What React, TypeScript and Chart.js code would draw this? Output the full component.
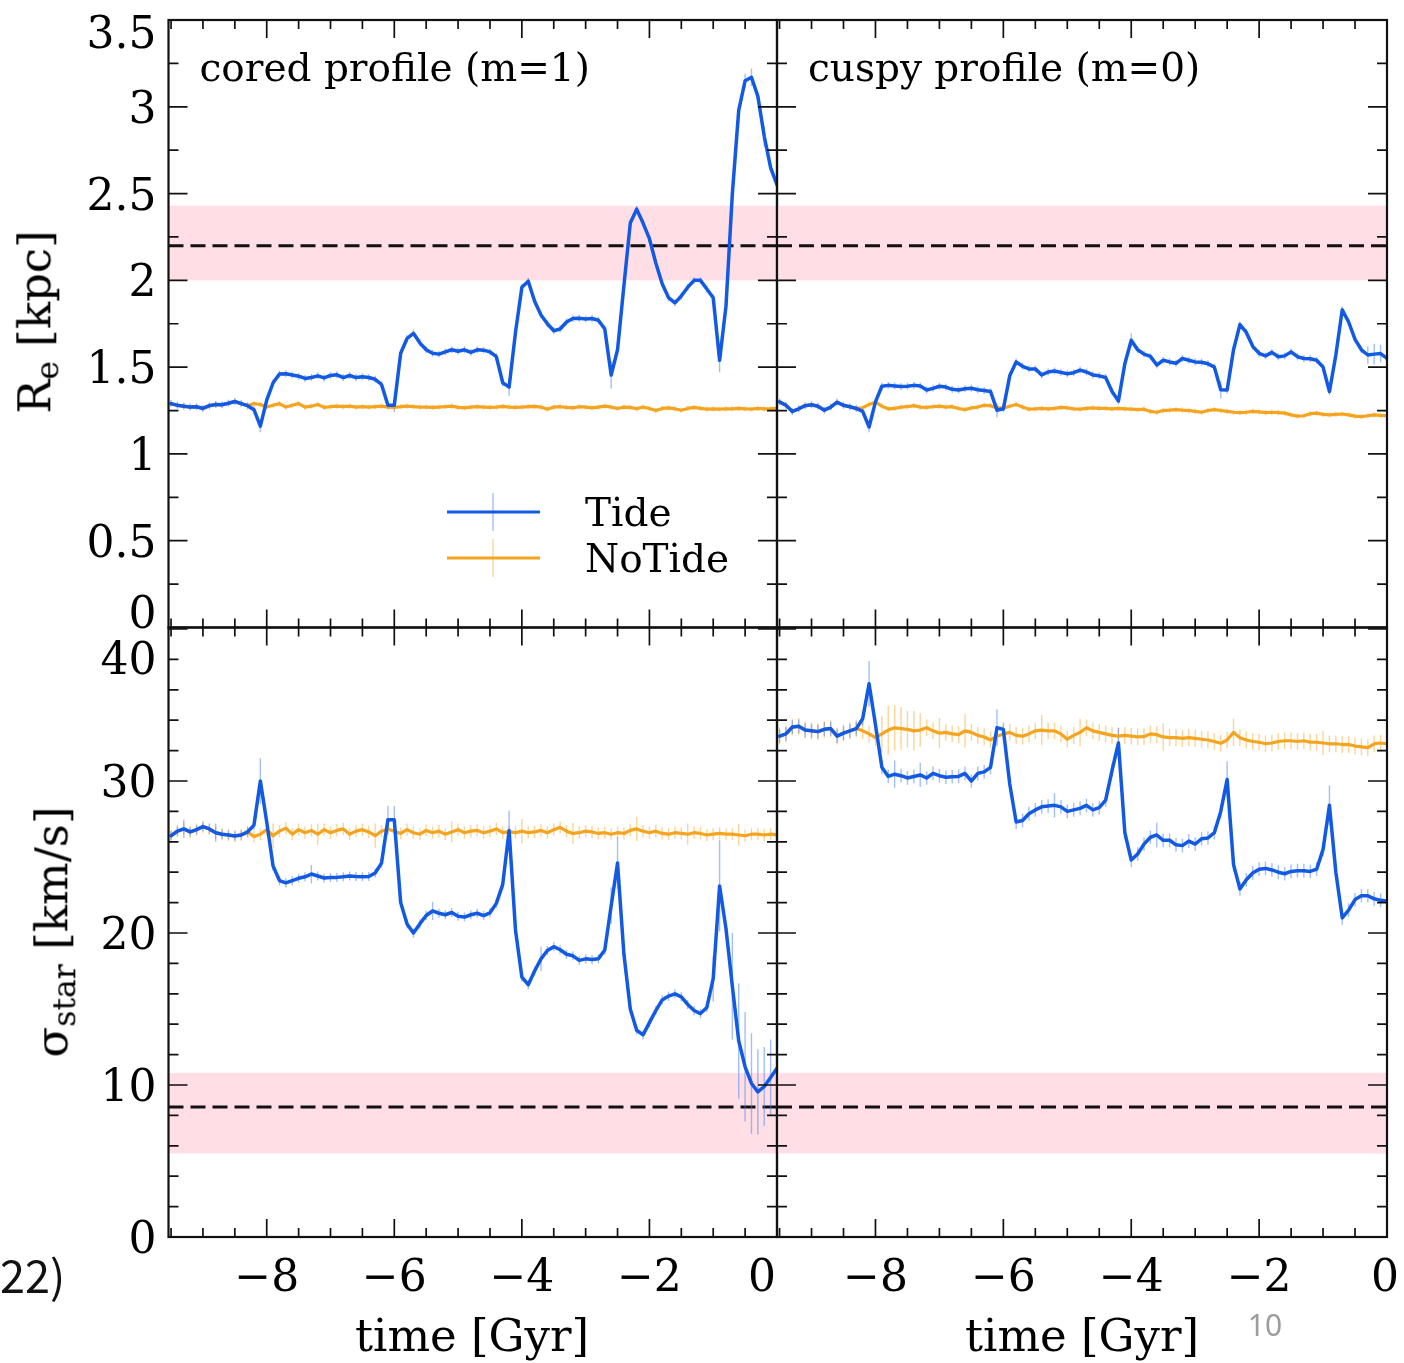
import React, { useEffect, useRef } from "react";
import { Chart, registerables } from "chart.js";

Chart.register(...registerables);

// ---------------- data ----------------
const TIME = [
  -9.5, -9.4, -9.3, -9.2, -9.1, -9.0, -8.9, -8.8, -8.7, -8.6,
  -8.5, -8.4, -8.3, -8.2, -8.1, -8.0, -7.9, -7.8, -7.7, -7.6,
  -7.5, -7.4, -7.3, -7.2, -7.1, -7.0, -6.9, -6.8, -6.7, -6.6,
  -6.5, -6.4, -6.3, -6.2, -6.1, -6.0, -5.9, -5.8, -5.7, -5.6,
  -5.5, -5.4, -5.3, -5.2, -5.1, -5.0, -4.9, -4.8, -4.7, -4.6,
  -4.5, -4.4, -4.3, -4.2, -4.1, -4.0, -3.9, -3.8, -3.7, -3.6,
  -3.5, -3.4, -3.3, -3.2, -3.1, -3.0, -2.9, -2.8, -2.7, -2.6,
  -2.5, -2.4, -2.3, -2.2, -2.1, -2.0, -1.9, -1.8, -1.7, -1.6,
  -1.5, -1.4, -1.3, -1.2, -1.1, -1.0, -0.9, -0.8, -0.7, -0.6,
  -0.5, -0.4, -0.3, -0.2, -0.1, 0.0,
];

// Re [kpc], cored profile (m=1)
const RE_CORED_TIDE = [
  1.29, 1.28, 1.275, 1.27, 1.272, 1.262, 1.278, 1.285, 1.283, 1.292,
  1.302, 1.29, 1.278, 1.255, 1.16, 1.31, 1.41, 1.46, 1.462, 1.455,
  1.448, 1.435, 1.44, 1.45, 1.438, 1.452, 1.456, 1.44, 1.452, 1.44,
  1.445, 1.44, 1.43, 1.4, 1.28, 1.28, 1.58, 1.665, 1.695, 1.64,
  1.6, 1.58, 1.575, 1.588, 1.6, 1.592, 1.6, 1.585, 1.6, 1.598,
  1.588, 1.56, 1.41, 1.385, 1.7, 1.96, 1.995, 1.88, 1.8, 1.75,
  1.71, 1.72, 1.76, 1.78, 1.782, 1.778, 1.78, 1.77, 1.72, 1.455,
  1.6, 1.97, 2.33, 2.41, 2.33, 2.24, 2.1, 1.98, 1.9, 1.87,
  1.91, 1.96, 2.0, 2.0, 1.95, 1.9, 1.54, 1.85, 2.5, 2.98,
  3.15, 3.17, 3.06, 2.83, 2.65, 2.55,
];
const RE_CORED_NOTIDE = [
  1.29, 1.28, 1.275, 1.27, 1.272, 1.262, 1.278, 1.285, 1.283, 1.292,
  1.302, 1.29, 1.278, 1.29, 1.285, 1.27, 1.28, 1.29, 1.27, 1.28,
  1.29, 1.27, 1.275, 1.285, 1.268, 1.272, 1.275, 1.272, 1.275, 1.27,
  1.272, 1.27, 1.272, 1.275, 1.27, 1.268, 1.272, 1.275, 1.272, 1.27,
  1.27, 1.268, 1.27, 1.272, 1.275, 1.268, 1.265, 1.27, 1.272, 1.27,
  1.268, 1.27, 1.274, 1.27, 1.268, 1.27, 1.272, 1.274, 1.27, 1.258,
  1.27, 1.272, 1.268, 1.265, 1.272, 1.27, 1.265, 1.27, 1.275, 1.27,
  1.262, 1.27, 1.268, 1.26, 1.27, 1.262, 1.25, 1.262, 1.265, 1.26,
  1.252, 1.262, 1.268, 1.262, 1.258, 1.26, 1.258, 1.26, 1.26, 1.262,
  1.26, 1.258, 1.262, 1.26, 1.26, 1.262,
];

// Re [kpc], cuspy profile (m=0)
const RE_CUSPY_TIDE = [
  1.3, 1.28, 1.245, 1.26, 1.278, 1.283, 1.275, 1.252, 1.27, 1.298,
  1.28, 1.272, 1.262, 1.245, 1.155, 1.3, 1.39, 1.395, 1.392, 1.388,
  1.39, 1.395, 1.392, 1.368, 1.378, 1.39, 1.385, 1.372, 1.368, 1.375,
  1.378, 1.37, 1.365, 1.36, 1.252, 1.26, 1.45, 1.53, 1.505, 1.49,
  1.49, 1.455, 1.472, 1.478, 1.47, 1.462, 1.468, 1.483, 1.472, 1.455,
  1.45, 1.44, 1.36, 1.305, 1.52, 1.655, 1.6, 1.575, 1.562, 1.512,
  1.54, 1.53, 1.522, 1.55, 1.54, 1.53, 1.528, 1.52, 1.5, 1.37,
  1.368, 1.6, 1.745, 1.7, 1.62, 1.58, 1.565, 1.585, 1.56, 1.565,
  1.588, 1.56, 1.55, 1.548, 1.54, 1.5, 1.36, 1.57, 1.83, 1.76,
  1.66, 1.6, 1.57, 1.575, 1.578, 1.55,
];
const RE_CUSPY_NOTIDE = [
  1.3, 1.28, 1.245, 1.26, 1.278, 1.283, 1.275, 1.252, 1.27, 1.298,
  1.28, 1.272, 1.262, 1.265, 1.285, 1.298, 1.275, 1.26, 1.262, 1.27,
  1.272, 1.278, 1.27, 1.268, 1.272, 1.275, 1.27, 1.272, 1.262, 1.255,
  1.265, 1.27, 1.28, 1.278, 1.265, 1.265, 1.275, 1.285, 1.27, 1.258,
  1.26, 1.262, 1.26, 1.262, 1.268, 1.265, 1.26, 1.258, 1.262, 1.265,
  1.262, 1.262, 1.26, 1.262, 1.26, 1.258, 1.255, 1.258, 1.245, 1.24,
  1.25, 1.252, 1.255, 1.252, 1.25, 1.245, 1.24, 1.25, 1.255, 1.25,
  1.245, 1.24, 1.238, 1.24, 1.245, 1.242, 1.238, 1.24, 1.238, 1.235,
  1.225, 1.218, 1.22, 1.232, 1.235, 1.228, 1.225, 1.228, 1.23, 1.225,
  1.218, 1.215, 1.22, 1.225, 1.222, 1.22,
];

// sigma_star [km/s], cored profile (m=1)
const SIG_CORED_TIDE = [
  26.4, 26.7, 26.85, 26.65, 26.8, 27.0, 26.85, 26.6, 26.5, 26.45,
  26.38, 26.45, 26.65, 27.1, 30.0, 27.3, 24.4, 23.45, 23.3, 23.45,
  23.6, 23.7, 23.88, 23.75, 23.62, 23.65, 23.66, 23.7, 23.75, 23.72,
  23.7, 23.72, 23.95, 24.6, 27.45, 27.45, 22.0, 20.6, 20.0, 20.6,
  21.15, 21.45, 21.3, 21.2, 21.35, 21.1, 21.05, 21.2, 21.3, 21.15,
  21.33, 21.95, 23.2, 26.75, 20.2, 17.1, 16.6, 17.5, 18.3, 18.85,
  19.1, 18.9, 18.6, 18.5, 18.2, 18.3, 18.25, 18.3, 18.88, 21.8,
  24.6, 18.6, 15.0, 13.6, 13.3, 14.1, 14.9, 15.6, 15.85, 16.0,
  15.8, 15.3, 14.9, 14.7, 15.1, 17.0, 23.1, 20.3, 16.5, 12.9,
  11.2, 10.1, 9.55, 9.9, 10.5, 11.1,
];
const SIG_CORED_NOTIDE = [
  26.4, 26.7, 26.85, 26.65, 26.8, 27.0, 26.85, 26.6, 26.5, 26.45,
  26.38, 26.45, 26.65, 26.35, 26.5, 26.8, 26.4, 26.7, 26.9, 26.5,
  26.8, 26.6, 26.75, 26.5, 26.8, 26.6, 26.75, 26.85, 26.5, 26.7,
  26.8, 26.65, 26.4, 26.7, 26.85, 26.7, 26.55, 26.8, 26.6, 26.5,
  26.75, 26.6, 26.7, 26.5, 26.65, 26.8, 26.6, 26.7, 26.75, 26.6,
  26.7, 26.85, 26.6, 26.65, 26.6, 26.7, 26.6, 26.65, 26.75, 26.6,
  26.8, 26.95, 26.7, 26.55, 26.6, 26.7, 26.65, 26.55, 26.6, 26.5,
  26.6, 26.55, 26.75, 26.85, 26.7, 26.6, 26.7, 26.55, 26.5, 26.6,
  26.55, 26.5, 26.6, 26.55, 26.45, 26.5, 26.55, 26.5, 26.5, 26.45,
  26.4, 26.5, 26.5, 26.45, 26.5, 26.45,
];

// sigma_star [km/s], cuspy profile (m=0)
const SIG_CUSPY_TIDE = [
  32.95, 33.1, 33.55, 33.6, 33.35, 33.3, 33.25, 33.4, 33.45, 32.95,
  33.15, 33.3, 33.45, 34.1, 36.4, 33.7, 30.9, 30.3, 30.45, 30.35,
  30.2, 30.3, 30.4, 30.2, 30.5, 30.35, 30.25, 30.28, 30.3, 30.5,
  30.0, 30.5, 30.6, 30.9, 33.5, 33.4, 29.8, 27.3, 27.4, 27.85,
  28.1, 28.3, 28.35, 28.4, 28.3, 28.0, 28.1, 28.2, 28.4, 28.1,
  28.25, 28.75, 30.7, 32.5, 26.6, 24.8, 25.2, 25.85, 26.3, 26.45,
  26.1, 26.1, 25.8, 25.75, 26.05, 25.85, 26.2, 26.25, 26.6, 28.0,
  30.1, 24.5, 22.9, 23.5, 23.95, 24.2, 24.25, 24.15, 24.0, 23.9,
  24.05, 24.1, 24.1, 24.05, 24.2, 25.5, 28.4, 24.0, 21.0, 21.5,
  22.2, 22.45, 22.45, 22.25, 22.15, 22.1,
];
const SIG_CUSPY_NOTIDE = [
  32.95, 33.1, 33.55, 33.6, 33.35, 33.3, 33.25, 33.4, 33.45, 32.95,
  33.15, 33.3, 33.45, 33.3, 33.1, 32.85, 33.1, 33.35, 33.5, 33.45,
  33.4, 33.3, 33.35, 33.5, 33.3, 33.15, 33.2, 33.1, 33.05, 33.3,
  33.2, 33.0, 32.9, 32.7, 32.95, 33.1, 33.2, 33.0, 32.95, 33.1,
  33.3, 33.35, 33.3, 33.3, 33.1, 32.75, 33.0, 33.2, 33.5, 33.3,
  33.2, 33.1, 33.0, 32.95, 33.0, 32.95, 32.9, 32.92, 33.1, 33.05,
  32.9, 32.85, 32.85, 32.8, 32.85, 32.8, 32.75, 32.7, 32.6, 32.48,
  32.7, 33.2, 32.85, 32.7, 32.6, 32.55, 32.45, 32.5, 32.6, 32.65,
  32.65, 32.6, 32.65, 32.55, 32.55, 32.5, 32.45, 32.45, 32.4, 32.4,
  32.3, 32.25, 32.2, 32.45, 32.5, 32.45,
];

// error bars: typical half-length and [time, half-length] where larger
const RE_CORED_TIDE_ERR_BASE = 0.02;
const RE_CORED_TIDE_ERR: [number, number][] = [
  [-8.1, 0.035], [-6.0, 0.04], [-4.2, 0.05], [-2.6, 0.08], [-0.9, 0.07],
  [-0.5, 0.04], [-0.4, 0.05], [-0.2, 0.06],
];
const RE_CORED_NOTIDE_ERR_BASE = 0.015;
const RE_CORED_NOTIDE_ERR: [number, number][] = [];
const RE_CUSPY_TIDE_ERR_BASE = 0.02;
const RE_CUSPY_TIDE_ERR: [number, number][] = [
  [-8.1, 0.03], [-6.1, 0.04], [-4.0, 0.04], [-2.6, 0.05],
  [-0.3, 0.05], [-0.2, 0.06], [-0.1, 0.05],
];
const RE_CUSPY_NOTIDE_ERR_BASE = 0.015;
const RE_CUSPY_NOTIDE_ERR: [number, number][] = [];
const SIG_CORED_TIDE_ERR_BASE = 0.3;
const SIG_CORED_TIDE_ERR: [number, number][] = [
  [-8.1, 1.5], [-6.1, 0.9], [-6.0, 0.9], [-4.2, 1.3], [-2.6, 1.2], [-2.5, 1.7],
  [-1.0, 1.5], [-0.9, 3.0], [-0.7, 3.5], [-0.6, 3.8], [-0.5, 3.6],
  [-0.4, 3.3], [-0.3, 2.8], [-0.2, 2.6], [-0.1, 2.5], [0.0, 2.2],
  [-9.3, 0.6], [-8.8, 0.6], [-7.3, 0.6], [-5.4, 0.6], [-3.7, 0.8],
];
const SIG_CORED_NOTIDE_ERR_BASE = 0.4;
const SIG_CORED_NOTIDE_ERR: [number, number][] = [
  [-7.9, 0.8], [-7.2, 0.7], [-6.3, 0.8], [-5.1, 0.7], [-4.0, 0.8],
  [-3.2, 0.7], [-2.2, 0.8], [-1.4, 0.7], [-0.6, 0.7],
];
const SIG_CUSPY_TIDE_ERR_BASE = 0.45;
const SIG_CUSPY_TIDE_ERR: [number, number][] = [
  [-8.1, 1.5], [-6.1, 1.2], [-4.2, 1.0], [-2.5, 1.2], [-0.9, 1.3],
  [-7.7, 0.9], [-7.3, 0.8], [-5.2, 0.8], [-3.6, 0.8],
];
const SIG_CUSPY_NOTIDE_ERR_BASE = 0.55;
const SIG_CUSPY_NOTIDE_ERR: [number, number][] = [
  [-7.9, 1.2], [-7.8, 1.6], [-7.7, 1.5], [-7.6, 1.4], [-7.5, 1.2], [-7.4, 1.3],
  [-7.3, 1.1], [-7.0, 1.0], [-6.6, 1.1], [-5.4, 1.0], [-4.8, 0.9],
  [-3.5, 0.9], [-2.4, 0.9], [-1.0, 0.8],
];

// observed values (dashed line) and their range (pink band)
const RE_OBS = 2.2;
const RE_OBS_LO = 2.0;
const RE_OBS_HI = 2.43;
const SIG_OBS = 8.55;
const SIG_OBS_LO = 5.5;
const SIG_OBS_HI = 10.8;

// ticks
const X_MAJOR = [-8, -6, -4, -2, 0];
const X_MINOR = [-9.5, -9, -8.5, -7.5, -7, -6.5, -5.5, -5, -4.5, -3.5, -3, -2.5, -1.5, -1, -0.5];
const X_LABELS = ["\u22128", "\u22126", "\u22124", "\u22122", "0"];
const RE_MAJOR = [0, 0.5, 1, 1.5, 2, 2.5, 3, 3.5];
const RE_MINOR = [0.25, 0.75, 1.25, 1.75, 2.25, 2.75, 3.25];
const RE_LABELS = ["0", "0.5", "1", "1.5", "2", "2.5", "3", "3.5"];
const SIG_MAJOR = [0, 10, 20, 30, 40];
const SIG_MINOR = [2, 4, 6, 8, 12, 14, 16, 18, 22, 24, 26, 28, 32, 34, 36, 38];
const SIG_LABELS = ["0", "10", "20", "30", "40"];

const SERIES_NAMES = ["Tide", "NoTide"];
const PANEL_TITLES = ["cored profile (m=1)", "cuspy profile (m=0)"];

// ---------------- styles ----------------
const W = 1404;
const H = 1363;
const BLUE = "#1259e3";
const ORANGE = "#f5a41f";
const BLUE_ERR = "rgba(70,130,240,0.5)";
const ORANGE_ERR = "rgba(248,172,50,0.5)";
const PINK = "#ffdfe5";
const SERIF = "'DejaVu Serif', serif";

type Panel = {
  key: string;
  rect: [number, number, number, number]; // left, top, right, bottom
  yMin: number;
  yMax: number;
  tide: number[];
  noTide: number[];
  tideErrBase: number;
  tideErr: [number, number][];
  noTideErrBase: number;
  noTideErr: [number, number][];
  obs: number;
  obsLo: number;
  obsHi: number;
  yMajor: number[];
  yMinor: number[];
  yLabels: string[] | null;
  yLabelShift: Record<string, number>;
  xLabels: boolean;
  xLabelShift: Record<string, number>;
  title: string | null;
  legend: boolean;
};

const PANELS: Panel[] = [
  {
    key: "tl", rect: [168.5, 20, 777, 627.5], yMin: 0, yMax: 3.5,
    tide: RE_CORED_TIDE, noTide: RE_CORED_NOTIDE,
    tideErrBase: RE_CORED_TIDE_ERR_BASE, tideErr: RE_CORED_TIDE_ERR,
    noTideErrBase: RE_CORED_NOTIDE_ERR_BASE, noTideErr: RE_CORED_NOTIDE_ERR,
    obs: RE_OBS, obsLo: RE_OBS_LO, obsHi: RE_OBS_HI,
    yMajor: RE_MAJOR, yMinor: RE_MINOR, yLabels: RE_LABELS,
    yLabelShift: { "0": -15.5, "3.5": 12 },
    xLabels: false, xLabelShift: {}, title: PANEL_TITLES[0], legend: true,
  },
  {
    key: "tr", rect: [777, 20, 1387, 627.5], yMin: 0, yMax: 3.5,
    tide: RE_CUSPY_TIDE, noTide: RE_CUSPY_NOTIDE,
    tideErrBase: RE_CUSPY_TIDE_ERR_BASE, tideErr: RE_CUSPY_TIDE_ERR,
    noTideErrBase: RE_CUSPY_NOTIDE_ERR_BASE, noTideErr: RE_CUSPY_NOTIDE_ERR,
    obs: RE_OBS, obsLo: RE_OBS_LO, obsHi: RE_OBS_HI,
    yMajor: RE_MAJOR, yMinor: RE_MINOR, yLabels: null, yLabelShift: {},
    xLabels: false, xLabelShift: {}, title: PANEL_TITLES[1], legend: false,
  },
  {
    key: "bl", rect: [168.5, 627.5, 777, 1237], yMin: 0, yMax: 40.1,
    tide: SIG_CORED_TIDE, noTide: SIG_CORED_NOTIDE,
    tideErrBase: SIG_CORED_TIDE_ERR_BASE, tideErr: SIG_CORED_TIDE_ERR,
    noTideErrBase: SIG_CORED_NOTIDE_ERR_BASE, noTideErr: SIG_CORED_NOTIDE_ERR,
    obs: SIG_OBS, obsLo: SIG_OBS_LO, obsHi: SIG_OBS_HI,
    yMajor: SIG_MAJOR, yMinor: SIG_MINOR, yLabels: SIG_LABELS,
    yLabelShift: { "40": 29 },
    xLabels: true, xLabelShift: { "0": -15 }, title: null, legend: false,
  },
  {
    key: "br", rect: [777, 627.5, 1387, 1237], yMin: 0, yMax: 40.1,
    tide: SIG_CUSPY_TIDE, noTide: SIG_CUSPY_NOTIDE,
    tideErrBase: SIG_CUSPY_TIDE_ERR_BASE, tideErr: SIG_CUSPY_TIDE_ERR,
    noTideErrBase: SIG_CUSPY_NOTIDE_ERR_BASE, noTideErr: SIG_CUSPY_NOTIDE_ERR,
    obs: SIG_OBS, obsLo: SIG_OBS_LO, obsHi: SIG_OBS_HI,
    yMajor: SIG_MAJOR, yMinor: SIG_MINOR, yLabels: null, yLabelShift: {},
    xLabels: true, xLabelShift: { "0": -2 }, title: null, legend: false,
  },
];

const X_MIN = -9.54;
const X_MAX = 0;

function errAt(base: number, list: [number, number][], t: number) {
  for (const [tt, e] of list) if (Math.abs(tt - t) < 1e-6) return e;
  return base;
}

function makePlugin(p: Panel) {
  return {
    id: "panel_" + p.key,
    beforeDatasetsDraw(chart: any) {
      const { ctx, chartArea: a } = chart;
      const x = chart.scales.x;
      const y = chart.scales.y;
      ctx.save();
      ctx.beginPath();
      ctx.rect(a.left, a.top, a.right - a.left, a.bottom - a.top);
      ctx.clip();
      // pink band
      const yb1 = y.getPixelForValue(p.obsHi);
      const yb2 = y.getPixelForValue(p.obsLo);
      ctx.fillStyle = PINK;
      ctx.fillRect(a.left, yb1, a.right - a.left, yb2 - yb1);
      // dashed observed line
      const yd = y.getPixelForValue(p.obs);
      ctx.strokeStyle = "#111";
      ctx.lineWidth = 3;
      ctx.setLineDash([15, 7]);
      ctx.beginPath();
      ctx.moveTo(a.left, yd);
      ctx.lineTo(a.right, yd);
      ctx.stroke();
      ctx.setLineDash([]);
      // error bars
      const drawErr = (vals: number[], base: number, list: [number, number][], color: string) => {
        ctx.strokeStyle = color;
        ctx.lineWidth = 1.4;
        ctx.beginPath();
        for (let i = 0; i < TIME.length; i++) {
          const e = errAt(base, list, TIME[i]);
          const px = x.getPixelForValue(TIME[i]);
          ctx.moveTo(px, y.getPixelForValue(vals[i] + e));
          ctx.lineTo(px, y.getPixelForValue(vals[i] - e));
        }
        ctx.stroke();
      };
      drawErr(p.noTide, p.noTideErrBase, p.noTideErr, ORANGE_ERR);
      drawErr(p.tide, p.tideErrBase, p.tideErr, BLUE_ERR);
      ctx.restore();
    },
    afterDatasetsDraw(chart: any) {
      const { ctx, chartArea: a } = chart;
      const x = chart.scales.x;
      const y = chart.scales.y;
      ctx.save();
      ctx.strokeStyle = "#111";
      ctx.lineWidth = 1.7;
      // ticks (inward, all four sides)
      ctx.beginPath();
      const xt = (vals: number[], len: number) => {
        for (const v of vals) {
          const px = x.getPixelForValue(v);
          ctx.moveTo(px, a.bottom);
          ctx.lineTo(px, a.bottom - len);
          ctx.moveTo(px, a.top);
          ctx.lineTo(px, a.top + len);
        }
      };
      const yt = (vals: number[], len: number) => {
        for (const v of vals) {
          const py = y.getPixelForValue(v);
          ctx.moveTo(a.left, py);
          ctx.lineTo(a.left + len, py);
          ctx.moveTo(a.right, py);
          ctx.lineTo(a.right - len, py);
        }
      };
      xt(X_MAJOR, 18);
      xt(X_MINOR, 9);
      yt(p.yMajor, 19);
      yt(p.yMinor, 10);
      ctx.stroke();
      // frame
      ctx.lineWidth = 2.2;
      ctx.strokeRect(a.left, a.top, a.right - a.left, a.bottom - a.top);

      ctx.fillStyle = "#000";
      // y tick labels
      if (p.yLabels) {
        ctx.font = "44px " + SERIF;
        ctx.textAlign = "right";
        ctx.textBaseline = "alphabetic";
        p.yMajor.forEach((v, i) => {
          const lab = p.yLabels![i];
          const shift = p.yLabelShift[lab] || 0;
          ctx.fillText(lab, a.left - 12, y.getPixelForValue(v) + shift + 16);
        });
      }
      // x tick labels
      if (p.xLabels) {
        ctx.font = "44px " + SERIF;
        ctx.textAlign = "center";
        ctx.textBaseline = "alphabetic";
        X_MAJOR.forEach((v, i) => {
          const lab = X_LABELS[i];
          const shift = p.xLabelShift[lab] || 0;
          ctx.fillText(lab, x.getPixelForValue(v) + shift, a.bottom + 54);
        });
      }
      // panel title
      if (p.title) {
        ctx.font = "39px " + SERIF;
        ctx.textAlign = "left";
        ctx.textBaseline = "alphabetic";
        ctx.fillText(p.title, a.left + 31, a.top + 61);
      }
      // legend
      if (p.legend) {
        const rows = [
          { name: SERIES_NAMES[0], color: BLUE, err: BLUE_ERR, cy: 512 },
          { name: SERIES_NAMES[1], color: ORANGE, err: ORANGE_ERR, cy: 558 },
        ];
        for (const r of rows) {
          ctx.strokeStyle = r.err;
          ctx.lineWidth = 1.4;
          ctx.beginPath();
          ctx.moveTo(493, r.cy - 19);
          ctx.lineTo(493, r.cy + 19);
          ctx.stroke();
          ctx.strokeStyle = r.color;
          ctx.lineWidth = 3.2;
          ctx.beginPath();
          ctx.moveTo(447, r.cy);
          ctx.lineTo(540, r.cy);
          ctx.stroke();
          ctx.fillStyle = "#000";
          ctx.font = "39px " + SERIF;
          ctx.textAlign = "left";
          ctx.fillText(r.name, 585, r.cy + 14);
        }
      }
      ctx.restore();
    },
  };
}

function PanelChart({ panel }: { panel: Panel }) {
  const ref = useRef<HTMLCanvasElement | null>(null);
  useEffect(() => {
    if (!ref.current) return;
    const [l, t, r, b] = panel.rect;
    const pts = (vals: number[]) => TIME.map((tt, i) => ({ x: tt, y: vals[i] }));
    const chart = new Chart(ref.current, {
      type: "line",
      data: {
        datasets: [
          {
            label: SERIES_NAMES[0],
            data: pts(panel.tide),
            borderColor: BLUE,
            borderWidth: 3.5,
            pointRadius: 0,
            tension: 0,
            fill: false,
            borderJoinStyle: "round",
            borderCapStyle: "round",
            order: 0,
          },
          {
            label: SERIES_NAMES[1],
            data: pts(panel.noTide),
            borderColor: ORANGE,
            borderWidth: 3.2,
            pointRadius: 0,
            tension: 0,
            fill: false,
            borderJoinStyle: "round",
            borderCapStyle: "round",
            order: 1,
          },
        ],
      },
      options: {
        responsive: false,
        animation: false,
        events: [],
        layout: { padding: { left: l, top: t, right: W - r, bottom: H - b } },
        plugins: { legend: { display: false }, tooltip: { enabled: false }, title: { display: false } },
        scales: {
          x: { type: "linear", min: X_MIN, max: X_MAX, display: false },
          y: { type: "linear", min: panel.yMin, max: panel.yMax, display: false },
        },
      },
      plugins: [makePlugin(panel)],
    } as any);
    return () => chart.destroy();
  }, [panel]);
  return (
    <canvas
      ref={ref}
      width={W}
      height={H}
      style={{ position: "absolute", left: 0, top: 0, width: W, height: H }}
    />
  );
}

const txt: React.CSSProperties = {
  position: "absolute",
  whiteSpace: "nowrap",
  lineHeight: 1,
  fontFamily: SERIF,
  color: "#000",
};

export default function App() {
  return (
    <div style={{ position: "absolute", left: 0, top: 0, width: W, height: H, background: "#fff", overflow: "hidden" }}>
      {PANELS.map((p) => (
        <PanelChart key={p.key} panel={p} />
      ))}
      <div style={{ ...txt, fontSize: 45, left: 472, top: 1335, transform: "translate(-50%,-50%)" }}>time [Gyr]</div>
      <div style={{ ...txt, fontSize: 45, left: 1082, top: 1335, transform: "translate(-50%,-50%)" }}>time [Gyr]</div>
      <div style={{ ...txt, fontSize: 45, left: 38, top: 322, transform: "translate(-50%,-50%) rotate(-90deg)" }}>
        R<sub style={{ fontSize: "0.7em", verticalAlign: "-0.25em" }}>e</sub> [kpc]
      </div>
      <div style={{ ...txt, fontSize: 45, left: 55, top: 932, transform: "translate(-50%,-50%) rotate(-90deg)" }}>
        σ<sub style={{ fontSize: "0.7em", verticalAlign: "-0.25em" }}>star</sub> [km/s]
      </div>
      <div style={{ ...txt, fontFamily: "'Noto Sans CJK JP', 'Noto Sans', sans-serif", fontSize: 45, left: 0, top: 1273, transform: "translateY(-50%)", color: "#111" }}>22)</div>
      <div style={{ ...txt, fontFamily: "'Noto Sans', sans-serif", fontSize: 30, left: 1265, top: 1325, transform: "translate(-50%,-50%)", color: "#9c9c9c" }}>10</div>
    </div>
  );
}
